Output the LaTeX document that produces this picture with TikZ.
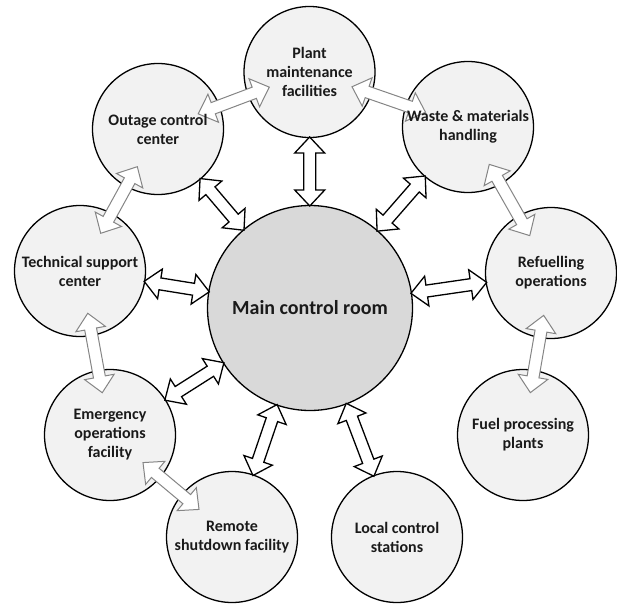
\documentclass[tikz,border=0pt]{standalone}
\usepackage{fontspec}
\setmainfont{Carlito}
\usetikzlibrary{calc}
\definecolor{outerfill}{HTML}{F2F2F2}
\definecolor{mainfill}{HTML}{D9D9D9}
\definecolor{grayline}{HTML}{858585}
\definecolor{txtcol}{HTML}{1A1A1A}
\tikzset{
  outer/.style={circle, draw=black, line width=1.3pt, fill=outerfill, minimum size=131pt, inner sep=0pt},
  mainc/.style={circle, draw=black, line width=1.3pt, fill=mainfill, minimum size=205pt, inner sep=0pt},
  otext/.style={align=center, inner sep=0pt, text=txtcol, font=\bfseries\fontsize{16}{19}\selectfont},
  mtext/.style={align=center, inner sep=0pt, text=txtcol, font=\bfseries\fontsize{20}{24}\selectfont},
  blackarr/.style={draw=black, fill=white, line width=1.3pt, line join=miter},
  grayarr/.style={draw=grayline, fill=white, line width=1pt, line join=miter}
}
\newcommand{\blockarr}[5]{%
  \coordinate (S) at ($(#2.center)!#4!(#3.center)$);
  \coordinate (E) at ($(#3.center)!#5!(#2.center)$);
  \coordinate (S1) at ($(S)!16pt!(E)$);
  \coordinate (E1) at ($(E)!16pt!(S)$);
  \draw[#1] (S) -- ($(S1)!15pt!90:(E)$) -- ($(S1)!6pt!90:(E)$) -- ($(E1)!6pt!-90:(S)$) -- ($(E1)!15pt!-90:(S)$) -- (E) -- ($(E1)!15pt!90:(S)$) -- ($(E1)!6pt!90:(S)$) -- ($(S1)!6pt!-90:(E)$) -- ($(S1)!15pt!-90:(E)$) -- cycle;
}
\begin{document}
\begin{tikzpicture}[x=1pt,y=-1pt]
\useasboundingbox (0,0) rectangle (617,604);
\node[mainc] (main) at (310,308) {};
\node[outer] (plant) at (309.5,72) {};
\node[outer] (waste) at (468,127) {};
\node[outer] (refuel) at (551,273) {};
\node[outer] (fuel) at (523,435) {};
\node[outer] (local) at (397,537) {};
\node[outer] (remote) at (232,537) {};
\node[outer] (emerg) at (110,435) {};
\node[outer] (tech) at (80,271) {};
\node[outer] (outage) at (158,129) {};
% black arrows to main control room
\blockarr{blackarr}{main}{plant}{102pt}{65pt}
\blockarr{blackarr}{main}{outage}{102pt}{65pt}
\blockarr{blackarr}{main}{waste}{102pt}{65pt}
\blockarr{blackarr}{main}{tech}{102pt}{65pt}
\blockarr{blackarr}{main}{refuel}{102pt}{65pt}
\blockarr{blackarr}{main}{emerg}{102pt}{65pt}
\blockarr{blackarr}{main}{remote}{102pt}{65pt}
\blockarr{blackarr}{main}{local}{102pt}{65pt}
% gray arrows between outer circles
\blockarr{grayarr}{outage}{plant}{43pt}{43pt}
\blockarr{grayarr}{plant}{waste}{45pt}{45pt}
\blockarr{grayarr}{waste}{refuel}{43pt}{43pt}
\blockarr{grayarr}{refuel}{fuel}{43pt}{43pt}
\blockarr{grayarr}{outage}{tech}{43pt}{43pt}
\blockarr{grayarr}{tech}{emerg}{43pt}{43pt}
\blockarr{grayarr}{emerg}{remote}{43pt}{43pt}
% labels on top
\node[mtext] (main-t) at (main) {Main control room};
\node[otext] (plant-t) at (plant) {Plant\\maintenance\\facilities};
\node[otext] (waste-t) at (waste) {Waste \& materials\\handling};
\node[otext] (refuel-t) at (refuel) {Refuelling\\operations};
\node[otext] (fuel-t) at (fuel) {Fuel processing\\plants};
\node[otext] (local-t) at (local) {Local control\\stations};
\node[otext] (remote-t) at (remote) {Remote\\shutdown facility};
\node[otext] (emerg-t) at (emerg) {Emergency\\operations\\facility};
\node[otext] (tech-t) at (tech) {Technical support\\center};
\node[otext] (outage-t) at (outage) {Outage control\\center};
\end{tikzpicture}
\end{document}
